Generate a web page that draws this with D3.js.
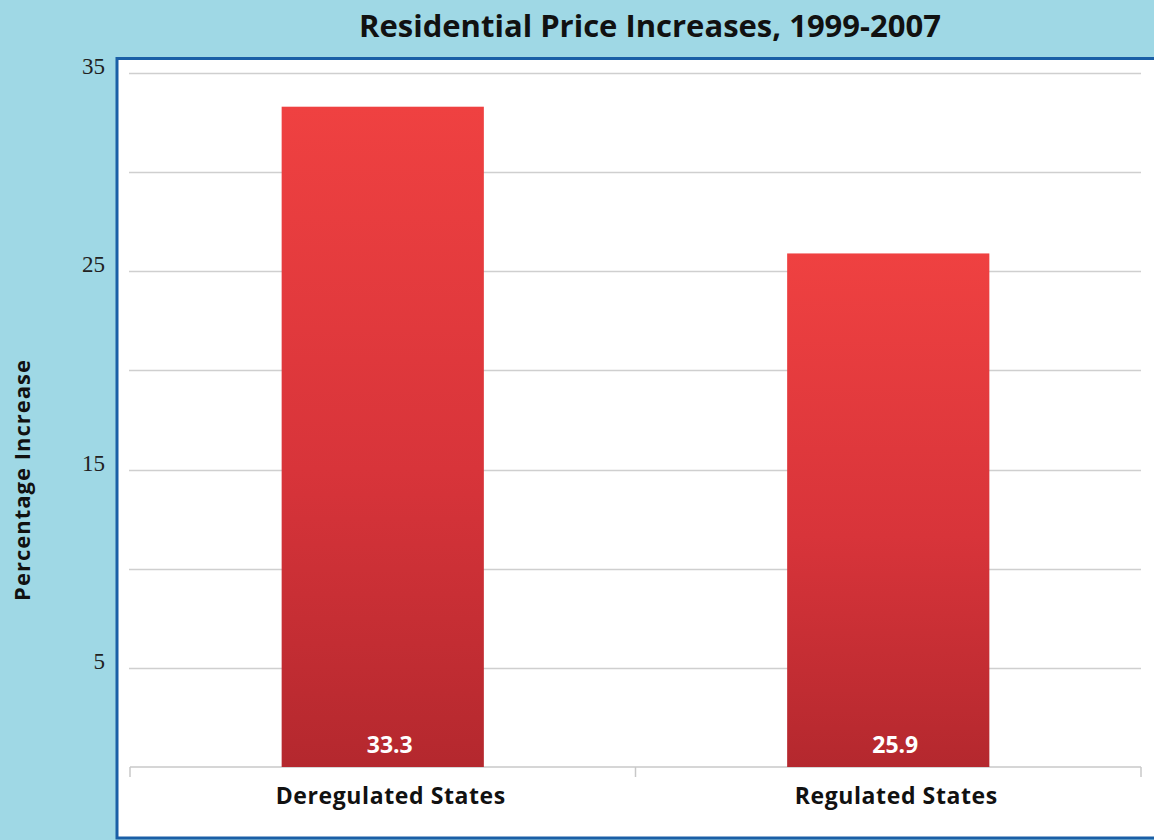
<!DOCTYPE html>
<html>
<head>
<meta charset="utf-8">
<script src="https://cdn.jsdelivr.net/npm/d3@7"></script>
<style>
  html, body { margin: 0; padding: 0; background: #9fd8e5; }
  svg { display: block; }
</style>
</head>
<body>
<script>
// Chart data
const categories = ["Deregulated States", "Regulated States"];
const values = [33.3, 25.9];
const gridValues = [5, 10, 15, 20, 25, 30, 35];
const tickLabels = [5, 15, 25, 35];
const title = "Residential Price Increases, 1999-2007";
const yTitle = "Percentage Increase";

const W = 1154, H = 840;
const svg = d3.select("body").append("svg").attr("width", W).attr("height", H);

const sans = "'Open Sans', 'Noto Sans', sans-serif";
const serif = "'Liberation Serif', 'DejaVu Serif', serif";

// page background
svg.append("rect").attr("width", W).attr("height", H).attr("fill", "#9fd8e5");

// white plot panel with blue frame
svg.append("rect")
  .attr("x", 117).attr("y", 58.5).attr("width", W + 10).attr("height", 779.5)
  .attr("fill", "#ffffff").attr("stroke", "#1a5fa6").attr("stroke-width", 3);

const x = d3.scaleBand().domain(categories).range([130, 1141]).paddingInner(0.6).paddingOuter(0.3);
const y = d3.scaleLinear().domain([0, 35]).range([767, 73]);

// gradient for bars
const defs = svg.append("defs");
const grad = defs.append("linearGradient").attr("id", "barGrad")
  .attr("x1", 0).attr("y1", 0).attr("x2", 0).attr("y2", 1);
grad.append("stop").attr("offset", "0%").attr("stop-color", "#ef4141");
grad.append("stop").attr("offset", "55%").attr("stop-color", "#d8343a");
grad.append("stop").attr("offset", "100%").attr("stop-color", "#b4282e");

// gridlines
svg.append("g").selectAll("line").data(gridValues).join("line")
  .attr("x1", 129).attr("x2", 1141)
  .attr("y1", d => Math.round(y(d)) + 0.5).attr("y2", d => Math.round(y(d)) + 0.5)
  .attr("stroke", "#cfcfcf").attr("stroke-width", 1.5);

// y tick labels (outside panel)
svg.append("g").selectAll("text").data(tickLabels).join("text")
  .attr("x", 105).attr("y", d => y(d) + 1)
  .attr("text-anchor", "end")
  .attr("font-family", serif).attr("font-size", 23).attr("fill", "#222")
  .text(d => d);

// x axis
const xAxis = d3.axisBottom(x).tickSize(0).tickFormat("");
const gx = svg.append("g").attr("transform", `translate(0,${y(0)})`).call(xAxis);
gx.select(".domain").attr("stroke", "#c8c8c8").attr("stroke-width", 1.5)
  .attr("d", "M130,0H1141");
// boundary ticks between categories
const boundaries = [130, (x(categories[0]) + x.bandwidth() + x(categories[1])) / 2, 1141];
svg.append("g").selectAll("line").data(boundaries).join("line")
  .attr("x1", d => d).attr("x2", d => d)
  .attr("y1", y(0)).attr("y2", y(0) + 10)
  .attr("stroke", "#c8c8c8").attr("stroke-width", 1.5);

// bars
svg.append("g").selectAll("rect").data(values).join("rect")
  .attr("x", (d, i) => x(categories[i]))
  .attr("width", x.bandwidth())
  .attr("y", d => y(d))
  .attr("height", d => y(0) - y(d))
  .attr("fill", "url(#barGrad)");

// value labels inside bars
svg.append("g").selectAll("text").data(values).join("text")
  .attr("x", (d, i) => x(categories[i]) + x.bandwidth() / 2 + 7)
  .attr("y", 753)
  .attr("text-anchor", "middle")
  .attr("font-family", sans).attr("font-weight", "bold").attr("font-size", 23)
  .attr("fill", "#ffffff")
  .text(d => d.toFixed(1));

// category labels
svg.append("g").selectAll("text").data(categories).join("text")
  .attr("x", d => x(d) + x.bandwidth() / 2 + 8)
  .attr("y", 804)
  .attr("text-anchor", "middle")
  .attr("font-family", sans).attr("font-weight", "bold").attr("font-size", 23)
  .attr("letter-spacing", 0.6)
  .attr("fill", "#111")
  .text(d => d);

// title
svg.append("text")
  .attr("x", 650).attr("y", 37)
  .attr("text-anchor", "middle")
  .attr("font-family", sans).attr("font-weight", "bold").attr("font-size", 31)
  .attr("fill", "#111")
  .text(title);

// y axis title
svg.append("text")
  .attr("transform", "translate(30,480) rotate(-90)")
  .attr("text-anchor", "middle")
  .attr("font-family", sans).attr("font-weight", "bold").attr("font-size", 22)
  .attr("letter-spacing", 1)
  .attr("fill", "#111")
  .text(yTitle);
</script>
</body>
</html>
